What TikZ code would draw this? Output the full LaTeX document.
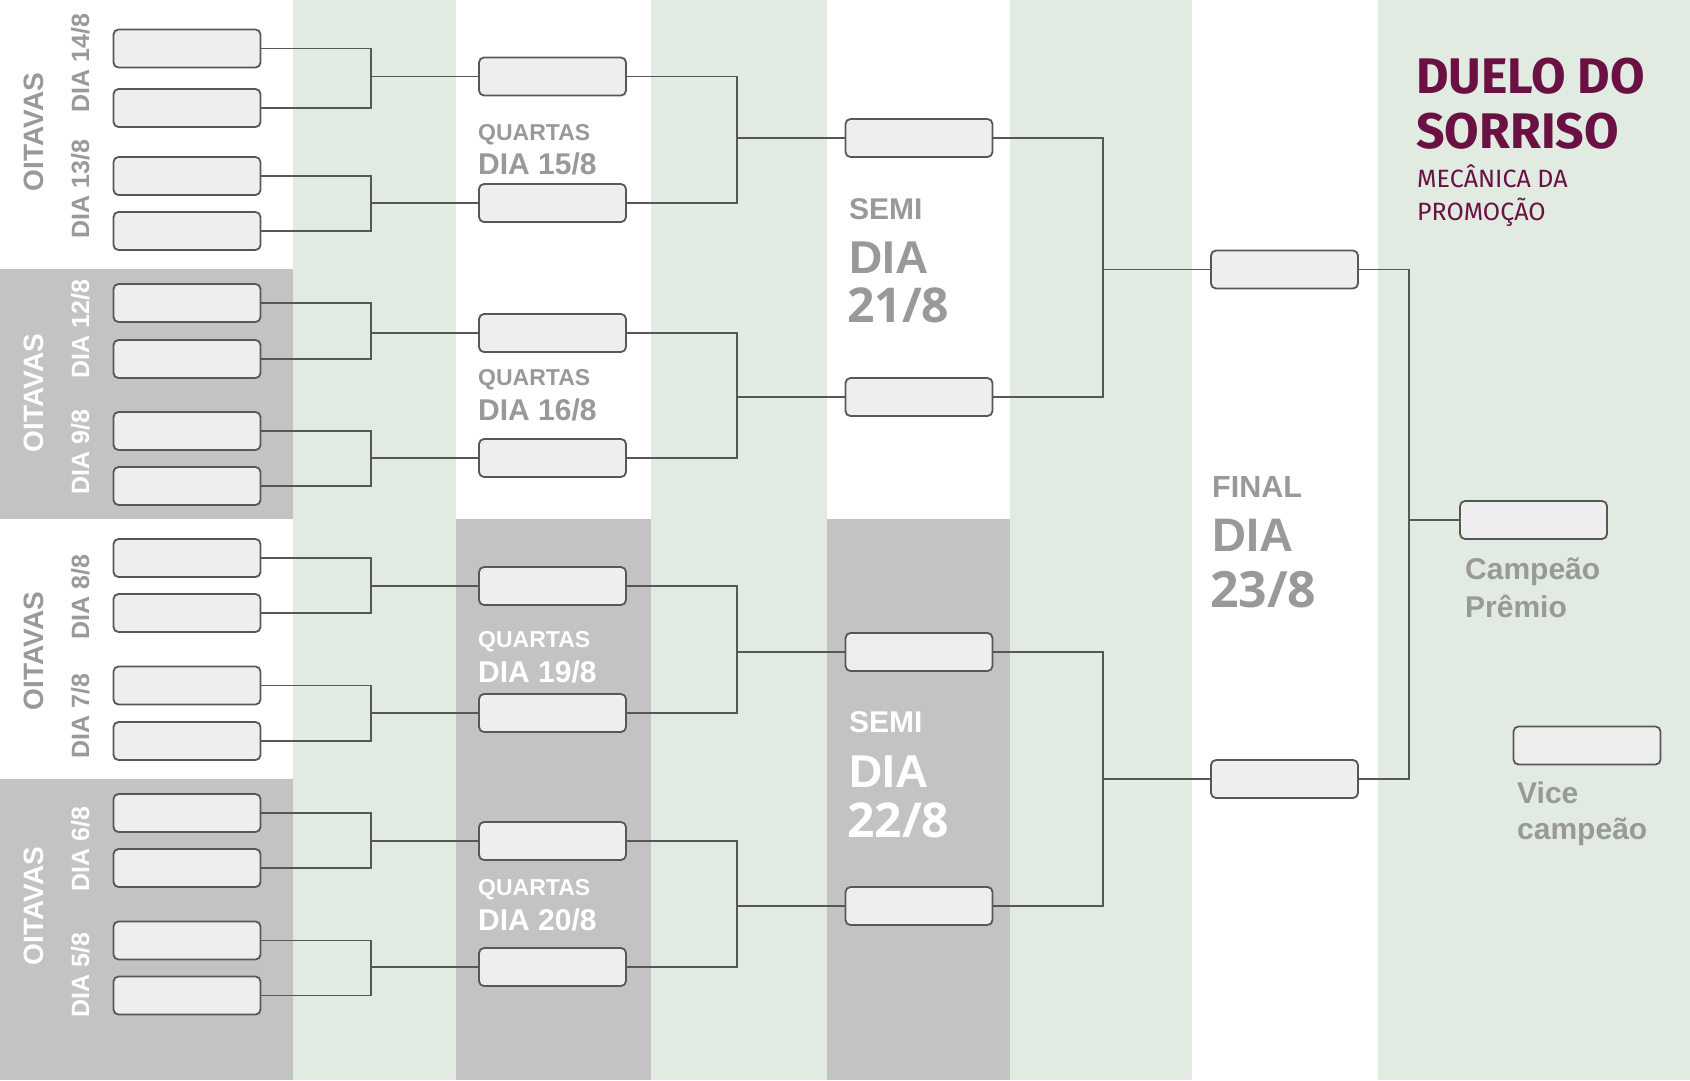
\documentclass[tikz,border=0pt]{standalone}
\usepackage{fontspec}
\usepackage{graphicx}
\setmainfont{Liberation Sans}
\newfontfamily\titlefont{Fira Sans}
\newfontfamily\numfont{Open Sans}
\usetikzlibrary{calc}
\definecolor{bggreen}{RGB}{225,235,226}
\definecolor{bggray}{RGB}{195,195,195}
\definecolor{slotfill}{RGB}{238,238,238}
\definecolor{slotline}{RGB}{85,88,85}
\definecolor{lblgray}{RGB}{153,153,153}
\definecolor{titlecol}{RGB}{106,16,66}
\newcommand\fsz[1]{\fontsize{#1}{#1}\selectfont}
\tikzset{
  slot/.style={draw=slotline, fill=slotfill, rounded corners=5pt, minimum width=147pt, minimum height=38pt, inner sep=0pt, line width=1.8pt},
  conn/.style={draw=slotline, line width=1.9pt},
  lbl/.style={text=lblgray, inner sep=0pt},
  wlbl/.style={text=white, inner sep=0pt},
  rot/.style={rotate=90, anchor=base},
  hl/.style={anchor=base west}
}
\begin{document}
\begin{tikzpicture}[x=1pt,y=-1pt]
\useasboundingbox (0,0) rectangle (1690,1080);
% backgrounds
\fill[white] (0,0) rectangle (1690,1080);
\fill[bggreen] (293,0) rectangle (456,1080);
\fill[bggreen] (651,0) rectangle (827,1080);
\fill[bggreen] (1010,0) rectangle (1192,1080);
\fill[bggreen] (1378,0) rectangle (1690,1080);
\fill[bggray] (0,269) rectangle (293,519);
\fill[bggray] (0,779) rectangle (293,1080);
\fill[bggray] (456,519) rectangle (651,1080);
\fill[bggray] (827,519) rectangle (1010,1080);

% round of 16 slots
\foreach \i/\y in {1/48.5,2/108,3/176,4/231,5/303,6/359,7/431,8/486,9/558,10/613,11/685.5,12/741,13/813,14/868,15/940.5,16/995.5}
  \node[slot] (o\i) at (187,\y) {};
% quarter slots
\foreach \i/\y in {1/76.5,2/203,3/333,4/458,5/586,6/713,7/841,8/967}
  \node[slot] (q\i) at (552.5,\y) {};
% semi slots
\foreach \i/\y in {1/138,2/397,3/652,4/906}
  \node[slot] (s\i) at (919,\y) {};
% final slots
\node[slot] (f1) at (1284.5,269.5) {};
\node[slot] (f2) at (1284.5,779) {};
% champion / vice
\node[slot] (champ) at (1533.5,520) {};
\node[slot] (vice) at (1587,745.5) {};

% connectors
\foreach \a/\b/\t in {1/2/1,3/4/2,5/6/3,7/8/4,9/10/5,11/12/6,13/14/7,15/16/8}{
  \draw[conn] (o\a.east) -- +(109.5,0) |- (q\t.west);
  \draw[conn] (o\b.east) -- +(109.5,0) |- (q\t.west);
}
\foreach \a/\b/\t in {1/2/1,3/4/2,5/6/3,7/8/4}{
  \draw[conn] (q\a.east) -- +(110,0) |- (s\t.west);
  \draw[conn] (q\b.east) -- +(110,0) |- (s\t.west);
}
\foreach \a/\b/\t in {1/2/1,3/4/2}{
  \draw[conn] (s\a.east) -- +(109.5,0) |- (f\t.west);
  \draw[conn] (s\b.east) -- +(109.5,0) |- (f\t.west);
}
\draw[conn] (f1.east) -- +(50,0) |- (champ.west);
\draw[conn] (f2.east) -- +(50,0) |- (champ.west);

% oitavas labels
\node[lbl, rot, font=\bfseries\fsz{28}] (ot1) at (43,132) {OITAVAS};
\node[wlbl, rot, font=\bfseries\fsz{28}] (ot2) at (43,393) {OITAVAS};
\node[lbl, rot, font=\bfseries\fsz{28}] (ot3) at (43,651) {OITAVAS};
\node[wlbl, rot, font=\bfseries\fsz{28}] (ot4) at (43,906) {OITAVAS};
\node[lbl, rot, font=\bfseries\fsz{25}] (d14) at (89,63) {DIA 14/8};
\node[lbl, rot, font=\bfseries\fsz{25}] (d13) at (89,189) {DIA 13/8};
\node[wlbl, rot, font=\bfseries\fsz{25}] (d12) at (89,329) {DIA 12/8};
\node[wlbl, rot, font=\bfseries\fsz{25}] (d9) at (89,452) {DIA 9/8};
\node[lbl, rot, font=\bfseries\fsz{25}] (d8) at (89,597) {DIA 8/8};
\node[lbl, rot, font=\bfseries\fsz{25}] (d7) at (89,716) {DIA 7/8};
\node[wlbl, rot, font=\bfseries\fsz{25}] (d6) at (89,849) {DIA 6/8};
\node[wlbl, rot, font=\bfseries\fsz{25}] (d5) at (89,975) {DIA 5/8};

% quartas labels
\node[lbl, hl, font=\bfseries\fsz{23}] (qa1) at (478,140) {QUARTAS};
\node[lbl, hl, font=\bfseries\fsz{30}] (qd1) at (478,174) {DIA 15/8};
\node[lbl, hl, font=\bfseries\fsz{23}] (qa2) at (478,385) {QUARTAS};
\node[lbl, hl, font=\bfseries\fsz{30}] (qd2) at (478,420) {DIA 16/8};
\node[wlbl, hl, font=\bfseries\fsz{23}] (qa3) at (478,647) {QUARTAS};
\node[wlbl, hl, font=\bfseries\fsz{30}] (qd3) at (478,682) {DIA 19/8};
\node[wlbl, hl, font=\bfseries\fsz{23}] (qa4) at (478,895) {QUARTAS};
\node[wlbl, hl, font=\bfseries\fsz{30}] (qd4) at (478,930) {DIA 20/8};

% semi labels
\node[lbl, hl, font=\bfseries\fsz{30}] (sa1) at (849,219) {SEMI};
\node[lbl, hl, font=\bfseries\fsz{46}] (sd1) at (849,273) {DIA};
\node[lbl, hl, font=\numfont\bfseries\fsz{48}] (sn1) at (847,322) {21/8};
\node[wlbl, hl, font=\bfseries\fsz{30}] (sa2) at (849,732) {SEMI};
\node[wlbl, hl, font=\bfseries\fsz{46}] (sd2) at (849,787) {DIA};
\node[wlbl, hl, font=\numfont\bfseries\fsz{48}] (sn2) at (847,837) {22/8};

% final labels
\node[lbl, hl, font=\bfseries\fsz{30.5}] (fa) at (1212,497) {FINAL};
\node[lbl, hl, font=\bfseries\fsz{47}] (fd) at (1212,551) {DIA};
\node[lbl, hl, font=\numfont\bfseries\fsz{50}] (fn) at (1210,607) {23/8};

% prize labels
\node[lbl, hl, font=\bfseries\fsz{30}] (cp1) at (1465,579) {Campeão};
\node[lbl, hl, font=\bfseries\fsz{30}] (cp2) at (1465,617) {Prêmio};
\node[lbl, hl, font=\bfseries\fsz{30}] (vc1) at (1517,803) {Vice};
\node[lbl, hl, font=\bfseries\fsz{30}] (vc2) at (1517,839) {campeão};

% title
\node[hl, inner sep=0pt, text=titlecol, font=\titlefont\bfseries\fsz{50}] (t1) at (1416,93) {DUELO DO};
\node[hl, inner sep=0pt, text=titlecol, font=\titlefont\bfseries\fsz{50}] (t2) at (1416,148) {SORRISO};
\node[hl, inner sep=0pt, text=titlecol, font=\titlefont\fsz{25}] (t3) at (1417,187) {MECÂNICA DA};
\node[hl, inner sep=0pt, text=titlecol, font=\titlefont\fsz{25}] (t4) at (1417,220) {PROMOÇÃO};
\end{tikzpicture}
\end{document}
